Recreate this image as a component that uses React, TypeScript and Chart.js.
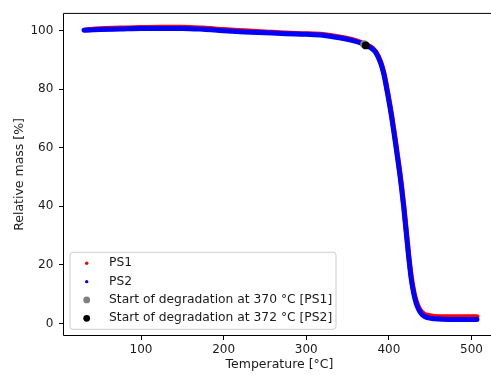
import React, { useEffect, useRef } from 'react';
import { Chart, registerables } from 'chart.js';

Chart.register(...registerables);

// ---- data ----
const ps1Temp = [33, 50, 75, 100, 125, 150, 175, 200, 225, 250, 275, 300, 320, 340, 355, 365, 370, 378, 384, 390, 394, 398, 403, 408, 412, 415, 418, 421, 424, 427, 430, 433, 436, 439, 443, 448, 455, 465, 480, 495, 506.5];
const ps1Mass = [100.3, 100.7, 100.9, 101.1, 101.2, 101.2, 100.9, 100.4, 100.0, 99.6, 99.2, 99.0, 98.7, 97.9, 97.0, 96.1, 95.5, 94.5, 92.9, 89.4, 85.5, 79.8, 71.8, 62.3, 54.3, 47.8, 40.3, 31.8, 23.3, 16.1, 11.1, 7.7, 5.5, 4.1, 3.1, 2.7, 2.4, 2.3, 2.3, 2.3, 2.3];

const ps2Temp = [31, 50, 75, 100, 125, 150, 175, 200, 225, 250, 275, 300, 320, 340, 355, 365, 372, 378, 384, 390, 394, 398, 403, 408, 412, 415, 418, 421, 424, 427, 430, 433, 436, 439, 443, 448, 455, 465, 480, 495, 506.5];
const ps2Mass = [100.2, 100.4, 100.6, 100.8, 100.8, 100.8, 100.5, 100.0, 99.6, 99.3, 99.0, 98.8, 98.5, 97.6, 96.7, 95.9, 95.0, 94.2, 92.6, 89.0, 85.0, 79.1, 71.0, 61.5, 53.5, 47.0, 39.5, 31.0, 22.5, 15.3, 10.3, 6.9, 4.8, 3.4, 2.4, 1.9, 1.6, 1.4, 1.3, 1.3, 1.3];

const onsetPS1Temp = [370];
const onsetPS1Mass = [95.4];
const onsetPS2Temp = [372];
const onsetPS2Mass = [95.0];

const seriesLabels = ['PS1', 'PS2', 'Start of degradation at 370 °C [PS1]', 'Start of degradation at 372 °C [PS2]'];
const seriesColors = ['#ff0000', '#0000ff', '#808080', '#000000'];
const legendRadii = [1.7, 1.7, 3.4, 3.4];

const xTicks = [100, 200, 300, 400, 500];
const yTicks = [0, 20, 40, 60, 80, 100];
const xTitle = 'Temperature [°C]';
const yTitle = 'Relative mass [%]';

const FONT = 'DejaVu Sans';
const TEXT = '#1a1a1a';

const toPoints = (xs: number[], ys: number[]) => xs.map((x, i) => ({ x, y: ys[i] }));

const framePlugin = {
  id: 'frame',
  afterDraw(chart: any) {
    const { ctx, chartArea } = chart;
    const { left, right, top, bottom } = chartArea;
    ctx.save();
    ctx.strokeStyle = '#000';
    ctx.lineWidth = 1;
    ctx.beginPath();
    ctx.moveTo(left + 0.5, top + 0.5);
    ctx.lineTo(right - 0.5, top + 0.5);
    ctx.lineTo(right - 0.5, bottom - 0.5);
    ctx.lineTo(left + 0.5, bottom - 0.5);
    ctx.closePath();
    ctx.stroke();
    ctx.restore();
  },
};

const legendPlugin = {
  id: 'mplLegend',
  afterDraw(chart: any) {
    const { ctx, chartArea } = chart;
    const boxLeft = chartArea.left + 7;
    const boxBottom = chartArea.bottom - 6.7;
    const rowH = 18.33;
    const n = chart.data.datasets.length;
    const boxH = 77;
    const boxW = 266;
    const boxTop = boxBottom - boxH;
    ctx.save();
    const r = 3;
    ctx.beginPath();
    ctx.moveTo(boxLeft + r, boxTop);
    ctx.lineTo(boxLeft + boxW - r, boxTop);
    ctx.arcTo(boxLeft + boxW, boxTop, boxLeft + boxW, boxTop + r, r);
    ctx.lineTo(boxLeft + boxW, boxBottom - r);
    ctx.arcTo(boxLeft + boxW, boxBottom, boxLeft + boxW - r, boxBottom, r);
    ctx.lineTo(boxLeft + r, boxBottom);
    ctx.arcTo(boxLeft, boxBottom, boxLeft, boxBottom - r, r);
    ctx.lineTo(boxLeft, boxTop + r);
    ctx.arcTo(boxLeft, boxTop, boxLeft + r, boxTop, r);
    ctx.closePath();
    ctx.fillStyle = 'rgba(255,255,255,0.8)';
    ctx.fill();
    ctx.strokeStyle = '#cccccc';
    ctx.lineWidth = 1;
    ctx.stroke();

    ctx.font = `12.3px "${FONT}"`;
    ctx.textBaseline = 'middle';
    ctx.textAlign = 'left';
    for (let i = 0; i < n; i++) {
      const ds = chart.data.datasets[i];
      const cy = boxTop + 11 + i * rowH;
      ctx.beginPath();
      ctx.arc(boxLeft + 16.7, cy, ds.legendRadius, 0, Math.PI * 2);
      ctx.fillStyle = ds.legendColor;
      ctx.fill();
      ctx.fillStyle = TEXT;
      ctx.fillText(ds.label, boxLeft + 39, cy);
    }
    ctx.restore();
  },
};

export default function App() {
  const ref = useRef<HTMLCanvasElement>(null);

  useEffect(() => {
    const canvas = ref.current;
    if (!canvas) return;
    const lineDs = (i: number, xs: number[], ys: number[], order: number) => ({
      label: seriesLabels[i],
      data: toPoints(xs, ys),
      showLine: true,
      borderColor: seriesColors[i],
      backgroundColor: seriesColors[i],
      borderWidth: 5,
      borderCapStyle: 'round',
      borderJoinStyle: 'round',
      cubicInterpolationMode: 'monotone',
      pointRadius: 0,
      pointHoverRadius: 0,
      order,
      legendColor: seriesColors[i],
      legendRadius: legendRadii[i],
    });
    const dotDs = (i: number, xs: number[], ys: number[], order: number) => ({
      label: seriesLabels[i],
      data: toPoints(xs, ys),
      showLine: false,
      backgroundColor: seriesColors[i],
      borderColor: seriesColors[i],
      borderWidth: 0,
      pointRadius: 3.9,
      order,
      legendColor: seriesColors[i],
      legendRadius: legendRadii[i],
    });

    const chart = new Chart(canvas, {
      type: 'scatter',
      data: {
        datasets: [
          lineDs(0, ps1Temp, ps1Mass, 4),
          lineDs(1, ps2Temp, ps2Mass, 3),
          dotDs(2, onsetPS1Temp, onsetPS1Mass, 2),
          dotDs(3, onsetPS2Temp, onsetPS2Mass, 1),
        ] as any,
      },
      options: {
        animation: false,
        responsive: false,
        devicePixelRatio: 1,
        layout: { padding: { left: 0, right: 0, top: 10, bottom: 0 } },
        plugins: { legend: { display: false }, tooltip: { enabled: false } },
        scales: {
          x: {
            type: 'linear',
            min: 5.6,
            max: 529.6,
            afterBuildTicks: (scale: any) => {
              scale.ticks = xTicks.map((v) => ({ value: v }));
            },
            afterFit: (scale: any) => {
              scale.height = 39;
            },
            border: { display: false },
            grid: { drawOnChartArea: false, drawTicks: true, tickLength: 4, tickColor: '#000', tickWidth: 1 },
            ticks: { color: TEXT, font: { family: FONT, size: 12 }, padding: 3, maxRotation: 0 },
            title: { display: true, text: xTitle, color: TEXT, font: { family: FONT, size: 12.5 }, padding: { top: 0, bottom: 3 } },
          },
          y: {
            type: 'linear',
            min: -4.3,
            max: 106.1,
            afterBuildTicks: (scale: any) => {
              scale.ticks = yTicks.map((v) => ({ value: v }));
            },
            afterFit: (scale: any) => {
              scale.width = 63;
            },
            border: { display: false },
            grid: { drawOnChartArea: false, drawTicks: true, tickLength: 4, tickColor: '#000', tickWidth: 1 },
            ticks: { color: TEXT, font: { family: FONT, size: 12 }, padding: 5.7 },
            title: { display: true, text: yTitle, color: TEXT, font: { family: FONT, size: 12.5 }, padding: { top: 12, bottom: 0 } },
          },
        },
      } as any,
      plugins: [framePlugin, legendPlugin],
    });
    return () => chart.destroy();
  }, []);

  return (
    <div style={{ position: 'fixed', left: 0, top: 0, width: 491, height: 375, overflow: 'hidden', background: '#fff' }}>
      <canvas ref={ref} width={500} height={375} style={{ display: 'block', width: 500, height: 375 }} />
    </div>
  );
}
